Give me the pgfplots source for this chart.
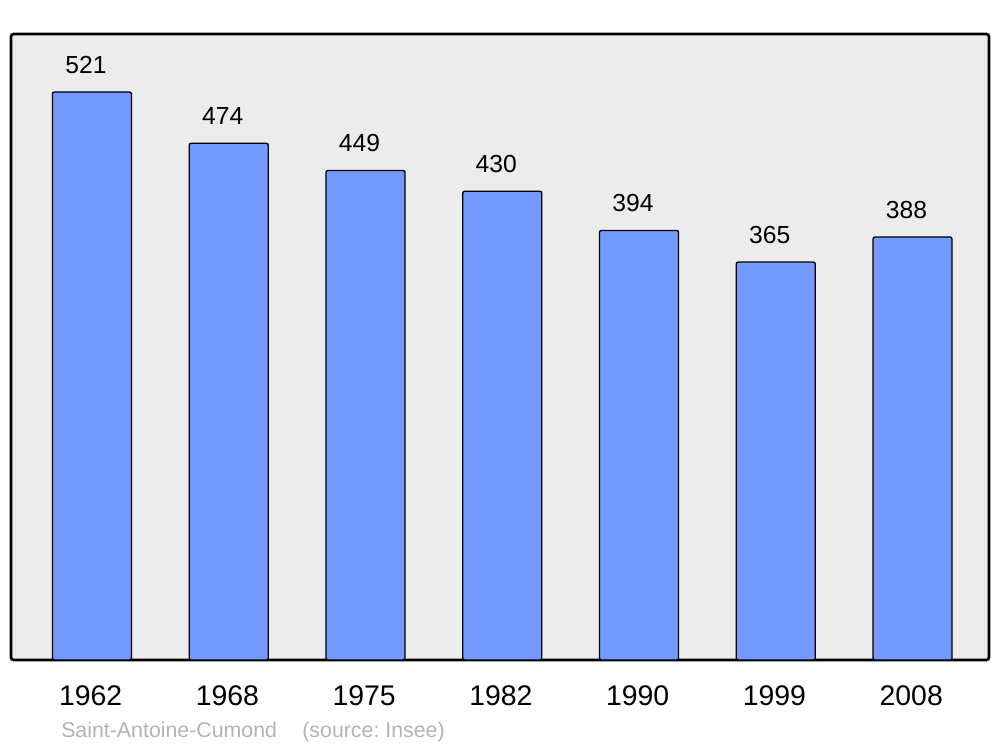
\documentclass[border=0pt]{standalone}
\usepackage{pgfplots}
\pgfplotsset{compat=1.18}
\usepackage{fontspec}
\setmainfont{Liberation Sans}
\frenchspacing
\definecolor{barblue}{HTML}{7499FF}
\definecolor{bggray}{HTML}{ECECEC}
\definecolor{srcgray}{HTML}{B3B3B3}
\begin{document}
\begin{tikzpicture}[x=1pt,y=1pt]
\useasboundingbox (0,0) rectangle (750,560.25);
\begin{axis}[
  at={(8.25pt,65.25pt)}, anchor=south west,
  scale only axis, width=733.5pt, height=469.5pt,
  xmin=-0.592, xmax=6.559, ymin=0, ymax=574.2,
  axis background/.style={fill=bggray},
  axis line style={line width=2pt, rounded corners=2pt},
  ybar, bar width=0.578, bar shift=0pt,
  ytick=\empty,
  xtick={0,1,2,3,4,5,6},
  xticklabels={1962,1968,1975,1982,1990,1999,2008},
  major tick length=0pt,
  /pgf/number format/assume math mode=true,
  xticklabel style={anchor=base, yshift=-33.75pt, xshift=-1pt, font=\fontsize{21.3}{24}\selectfont},
  nodes near coords,
  every node near coord/.append style={anchor=base, yshift=14pt, xshift=-4.5pt, font=\fontsize{18.5}{22}\selectfont, text=black},
]
\addplot[draw=black, line width=1pt, fill=barblue, rounded corners=1.5pt] coordinates {
(0,521) (1,474) (2,449) (3,430) (4,394) (5,365) (6,388)};
\end{axis}
\node[anchor=base west, inner sep=0pt, text=srcgray, font=\fontsize{16}{19}\selectfont] at (45.75,7.5) {Saint-Antoine-Cumond\hspace{19pt}(source: Insee)};
\end{tikzpicture}
\end{document}
